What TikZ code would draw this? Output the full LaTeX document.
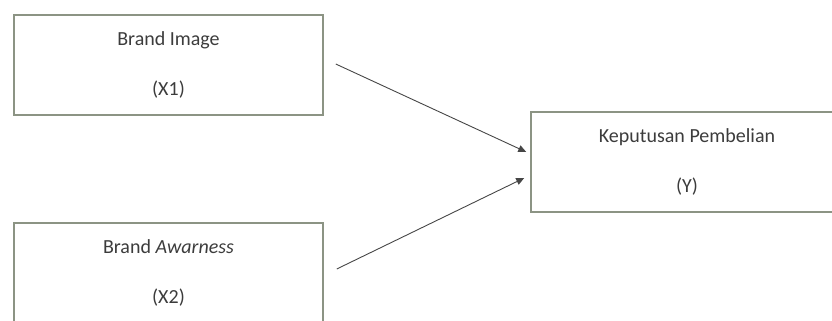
\documentclass[tikz,border=0pt]{standalone}
\usepackage{fontspec}
\setmainfont{Carlito}
\usetikzlibrary{arrows.meta,calc}
\definecolor{boxline}{RGB}{140,148,132}
\definecolor{txt}{RGB}{60,60,60}
\definecolor{arr}{RGB}{70,70,70}
\tikzset{
  varbox/.style={draw=boxline, line width=1.5pt, minimum width=309pt, minimum height=100pt,
    inner sep=0pt, align=center, text=txt, font=\fontsize{20}{50}\selectfont},
  link/.style={draw=arr, line width=0.9pt, -{Triangle[length=8pt,width=7pt]}}
}
\begin{document}
\begin{tikzpicture}[x=1pt,y=1pt]
\useasboundingbox (0,0) rectangle (832,321);
\node[varbox] (b1) at (168.5,256) {Brand Image\\(X1)};
\node[varbox] (b2) at (168.5,48) {Brand \textit{Awarness}\\(X2)};
\node[varbox, minimum width=312pt] (b3) at (687,159) {Keputusan Pembelian\\(Y)};
\coordinate (s1) at ($(b1.east)+(12,1)$);
\coordinate (s2) at ($(b2.east)+(13,4)$);
\coordinate (e1) at ($(b3.west)+(-4,10)$);
\coordinate (e2) at ($(b3.west)+(-6,-16)$);
\draw[link] (s1) -- (e1);
\draw[link] (s2) -- (e2);
\end{tikzpicture}
\end{document}
